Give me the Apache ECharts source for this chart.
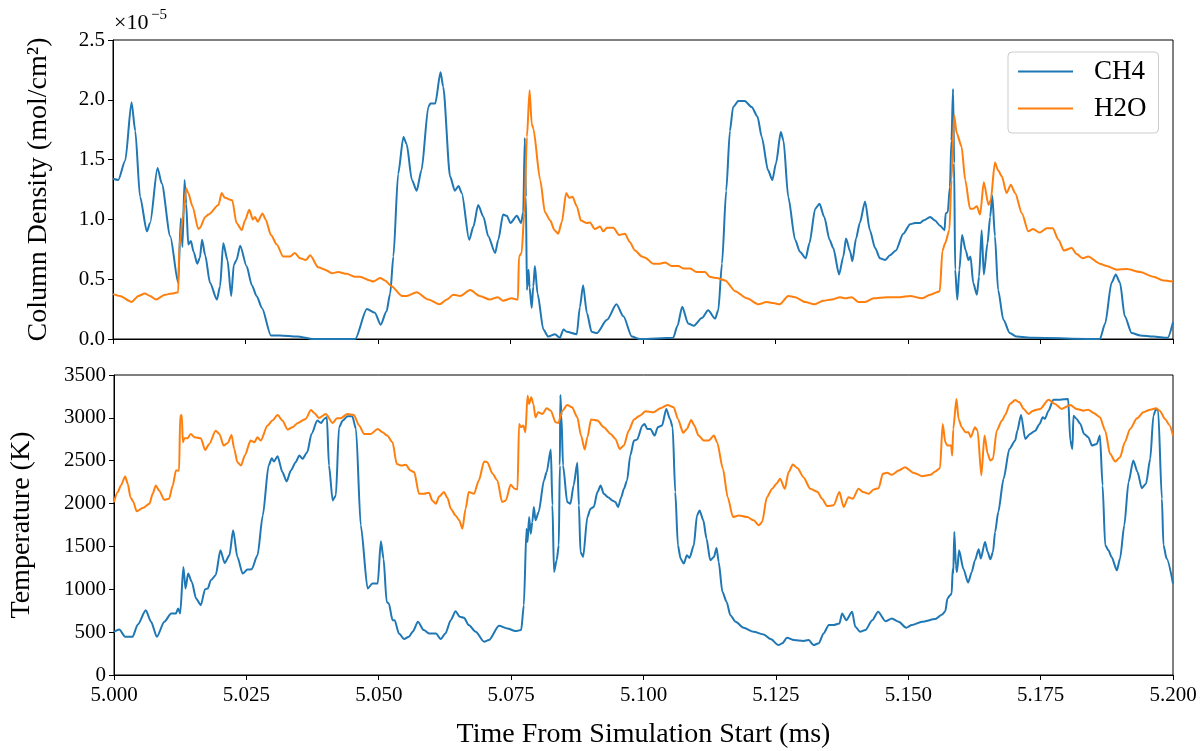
<!DOCTYPE html>
<html>
<head>
<meta charset="UTF-8">
<title>Column Density and Temperature</title>
<script src="https://cdn.jsdelivr.net/npm/echarts@6/dist/echarts.min.js"></script>
<style>
  html, body { margin: 0; padding: 0; background: #fff; }
  #main { width: 1200px; height: 751px; }
</style>
</head>
<body>
<div id="main"></div>
<script>
// column density, in units of 1e-5 mol/cm^2
const densityTimeCH4 = [5.0000,5.0010,5.0023,5.0035,5.0042,5.0051,5.0064,5.0070,5.0084,5.0092,5.0108,5.0123,5.0128,5.0131,5.0135,5.0138,5.0142,5.0147,5.0152,5.0159,5.0164,5.0168,5.0174,5.0183,5.0196,5.0202,5.0208,5.0216,5.0223,5.0228,5.0233,5.0240,5.0252,5.0262,5.0271,5.0281,5.0298,5.0315,5.0347,5.0378,5.0457,5.0479,5.0494,5.0505,5.0516,5.0523,5.0529,5.0538,5.0548,5.0554,5.0564,5.0573,5.0582,5.0595,5.0599,5.0608,5.0618,5.0623,5.0636,5.0645,5.0652,5.0658,5.0672,5.0680,5.0689,5.0699,5.0708,5.0721,5.0727,5.0736,5.0743,5.0750,5.0762,5.0770,5.0774,5.0777,5.0779,5.0781,5.0784,5.0786,5.0790,5.0793,5.0796,5.0801,5.0812,5.0821,5.0834,5.0843,5.0850,5.0856,5.0875,5.0881,5.0887,5.0894,5.0903,5.0913,5.0932,5.0950,5.0963,5.0979,5.0994,5.1057,5.1065,5.1074,5.1085,5.1096,5.1111,5.1123,5.1136,5.1142,5.1149,5.1157,5.1164,5.1170,5.1180,5.1192,5.1205,5.1216,5.1224,5.1236,5.1244,5.1251,5.1260,5.1265,5.1274,5.1287,5.1296,5.1307,5.1314,5.1325,5.1333,5.1342,5.1352,5.1359,5.1370,5.1378,5.1383,5.1391,5.1395,5.1402,5.1409,5.1419,5.1428,5.1438,5.1447,5.1457,5.1466,5.1477,5.1491,5.1504,5.1513,5.1523,5.1529,5.1542,5.1551,5.1560,5.1569,5.1571,5.1575,5.1579,5.1582,5.1585,5.1587,5.1589,5.1593,5.1597,5.1602,5.1609,5.1614,5.1618,5.1623,5.1630,5.1634,5.1639,5.1643,5.1650,5.1655,5.1659,5.1664,5.1670,5.1680,5.1692,5.1705,5.1736,5.1862,5.1872,5.1884,5.1892,5.1900,5.1909,5.1922,5.1938,5.1963,5.1990,5.2000];
const densityCH4 = [1.34,1.33,1.49,1.98,1.74,1.19,0.90,0.97,1.43,1.30,0.86,0.47,1.01,0.77,1.33,1.13,0.79,0.82,0.73,0.63,0.68,0.83,0.70,0.47,0.33,0.44,0.80,0.66,0.36,0.62,0.66,0.78,0.61,0.45,0.36,0.26,0.03,0.03,0.02,0,0,0.25,0.22,0.12,0.23,0.38,0.69,1.38,1.69,1.63,1.33,1.24,1.41,1.94,1.97,1.97,2.23,2.11,1.36,1.24,1.28,1.22,0.83,0.94,1.12,1.02,0.86,0.72,0.83,1.04,1.03,0.97,1.03,0.97,1.06,1.68,1.19,0.41,0.58,0.43,0.26,0.44,0.61,0.38,0.08,0.02,0.04,0.01,0.08,0.06,0.04,0.27,0.45,0.22,0.06,0.05,0.16,0.29,0.19,0.02,0,0.01,0.11,0.27,0.13,0.11,0.175,0.24,0.17,0.24,0.63,1.24,1.74,1.94,1.99,1.99,1.94,1.86,1.69,1.41,1.33,1.47,1.73,1.66,1.19,0.83,0.73,0.675,0.80,1.09,1.13,1.02,0.83,0.76,0.54,0.69,0.84,0.73,0.65,0.84,0.97,1.15,0.91,0.76,0.675,0.66,0.70,0.74,0.88,0.96,0.97,0.97,0.99,1.02,0.99,0.95,0.91,1.05,1.06,1.27,1.66,2.09,1.47,0.58,0.33,0.58,0.87,0.74,0.66,0.69,0.47,0.37,0.52,0.91,0.54,0.80,1.02,1.20,0.86,0.41,0.16,0.05,0.02,0.01,0,0.13,0.47,0.54,0.47,0.19,0.05,0.03,0.02,0.01,0.14];

const densityTimeH2O = [5.0000,5.0013,5.0035,5.0048,5.0060,5.0070,5.0081,5.0098,5.0111,5.0123,5.0125,5.0132,5.0138,5.0142,5.0150,5.0161,5.0164,5.0174,5.0180,5.0199,5.0205,5.0211,5.0225,5.0233,5.0243,5.0249,5.0257,5.0264,5.0268,5.0273,5.0282,5.0288,5.0298,5.0309,5.0321,5.0334,5.0343,5.0353,5.0364,5.0372,5.0387,5.0400,5.0413,5.0425,5.0441,5.0457,5.0466,5.0485,5.0491,5.0504,5.0513,5.0526,5.0545,5.0554,5.0573,5.0595,5.0616,5.0630,5.0642,5.0655,5.0674,5.0692,5.0711,5.0726,5.0736,5.0752,5.0764,5.0766,5.0771,5.0776,5.0781,5.0786,5.0790,5.0793,5.0806,5.0815,5.0825,5.0833,5.0840,5.0847,5.0855,5.0861,5.0867,5.0875,5.0883,5.0894,5.0900,5.0909,5.0919,5.0925,5.0932,5.0944,5.0955,5.0966,5.0975,5.0985,5.0998,5.1004,5.1019,5.1032,5.1042,5.1054,5.1067,5.1076,5.1089,5.1101,5.1117,5.1126,5.1139,5.1155,5.1174,5.1196,5.1218,5.1233,5.1246,5.1258,5.1274,5.1287,5.1306,5.1323,5.1340,5.1356,5.1372,5.1381,5.1394,5.1406,5.1419,5.1435,5.1460,5.1485,5.1504,5.1526,5.1542,5.1560,5.1565,5.1570,5.1578,5.1582,5.1587,5.1592,5.1601,5.1608,5.1617,5.1623,5.1630,5.1636,5.1643,5.1652,5.1656,5.1664,5.1670,5.1677,5.1686,5.1694,5.1702,5.1715,5.1727,5.1736,5.1748,5.1762,5.1773,5.1784,5.1794,5.1809,5.1818,5.1830,5.1840,5.1862,5.1875,5.1894,5.1913,5.1938,5.1963,5.1982,5.2000];
const densityH2O = [0.375,0.36,0.31,0.36,0.38,0.36,0.33,0.37,0.38,0.39,0.77,1.02,1.26,1.22,1.11,0.92,0.93,1.02,1.04,1.12,1.22,1.18,1.16,0.97,0.91,0.99,1.08,1.00,1.02,0.98,1.05,1.00,0.87,0.79,0.69,0.69,0.72,0.675,0.66,0.70,0.60,0.58,0.55,0.56,0.545,0.52,0.52,0.49,0.48,0.51,0.49,0.44,0.36,0.36,0.39,0.33,0.29,0.33,0.37,0.36,0.41,0.36,0.33,0.35,0.32,0.34,0.33,0.69,0.72,1.05,1.69,2.08,1.80,1.76,1.33,1.06,0.99,0.91,0.88,0.98,1.22,1.18,1.19,1.11,0.99,0.97,0.975,0.92,0.94,0.90,0.93,0.93,0.87,0.88,0.81,0.74,0.69,0.68,0.63,0.63,0.64,0.61,0.61,0.59,0.59,0.56,0.56,0.52,0.51,0.49,0.40,0.34,0.29,0.31,0.30,0.29,0.36,0.35,0.31,0.29,0.32,0.33,0.35,0.34,0.35,0.31,0.31,0.34,0.35,0.35,0.36,0.34,0.37,0.40,0.74,0.80,0.91,1.33,1.87,1.72,1.61,1.33,1.09,1.09,1.11,1.04,1.31,1.12,1.16,1.475,1.41,1.36,1.22,1.29,1.22,1.05,0.90,0.92,0.89,0.925,0.925,0.83,0.74,0.76,0.71,0.675,0.69,0.63,0.61,0.58,0.585,0.56,0.52,0.49,0.48];

// temperature, K
const tempTimeCH4 = [5.0000,5.0010,5.0021,5.0035,5.0045,5.0060,5.0070,5.0081,5.0095,5.0108,5.0117,5.0121,5.0125,5.0131,5.0135,5.0140,5.0147,5.0155,5.0164,5.0172,5.0177,5.0183,5.0192,5.0201,5.0209,5.0218,5.0225,5.0233,5.0243,5.0252,5.0260,5.0271,5.0281,5.0292,5.0298,5.0302,5.0309,5.0318,5.0326,5.0334,5.0343,5.0350,5.0356,5.0365,5.0373,5.0384,5.0391,5.0397,5.0402,5.0406,5.0413,5.0419,5.0425,5.0432,5.0441,5.0450,5.0457,5.0466,5.0479,5.0488,5.0498,5.0504,5.0509,5.0515,5.0519,5.0526,5.0530,5.0538,5.0548,5.0557,5.0564,5.0574,5.0585,5.0595,5.0608,5.0617,5.0626,5.0636,5.0645,5.0653,5.0661,5.0670,5.0683,5.0699,5.0708,5.0727,5.0743,5.0758,5.0769,5.0774,5.0779,5.0781,5.0784,5.0787,5.0790,5.0793,5.0796,5.0802,5.0812,5.0817,5.0825,5.0828,5.0831,5.0836,5.0840,5.0842,5.0843,5.0845,5.0848,5.0856,5.0862,5.0868,5.0875,5.0878,5.0881,5.0886,5.0894,5.0900,5.0906,5.0913,5.0919,5.0925,5.0933,5.0941,5.0947,5.0952,5.0958,5.0963,5.0969,5.0975,5.0982,5.0988,5.0998,5.1002,5.1007,5.1013,5.1021,5.1027,5.1035,5.1043,5.1050,5.1055,5.1060,5.1065,5.1070,5.1076,5.1082,5.1087,5.1095,5.1101,5.1106,5.1113,5.1119,5.1126,5.1133,5.1138,5.1142,5.1149,5.1157,5.1164,5.1174,5.1189,5.1208,5.1227,5.1240,5.1255,5.1262,5.1271,5.1284,5.1302,5.1312,5.1321,5.1331,5.1340,5.1350,5.1359,5.1370,5.1375,5.1383,5.1394,5.1400,5.1409,5.1419,5.1432,5.1443,5.1457,5.1469,5.1482,5.1496,5.1507,5.1526,5.1551,5.1564,5.1570,5.1574,5.1579,5.1582,5.1584,5.1585,5.1587,5.1590,5.1592,5.1596,5.1604,5.1613,5.1620,5.1626,5.1633,5.1637,5.1645,5.1650,5.1655,5.1660,5.1664,5.1670,5.1680,5.1691,5.1702,5.1706,5.1713,5.1721,5.1730,5.1740,5.1748,5.1754,5.1758,5.1765,5.1774,5.1787,5.1802,5.1806,5.1810,5.1812,5.1818,5.1825,5.1832,5.1840,5.1847,5.1856,5.1862,5.1867,5.1872,5.1878,5.1884,5.1894,5.1900,5.1908,5.1916,5.1925,5.1933,5.1941,5.1949,5.1957,5.1963,5.1968,5.1972,5.1979,5.1982,5.1988,5.2000];
const tempCH4 = [504,531,446,446,590,756,621,446,621,718,718,776,718,1261,1009,1183,1086,892,815,1001,1009,1106,1164,1455,1307,1397,1688,1377,1183,1230,1234,1397,1862,2444,2530,2490,2553,2367,2258,2386,2483,2560,2522,2600,2813,2968,2941,2988,3007,2444,2037,2095,2890,2968,3018,3018,2871,1746,1009,1067,1067,1559,1358,853,834,640,640,485,419,446,504,621,524,485,485,419,485,640,745,679,667,582,504,388,407,574,543,512,524,815,1707,1552,1843,1649,1785,1959,1804,1901,2270,2367,2631,1979,1203,1339,1513,2444,3267,3026,2444,2017,1998,2211,2475,1979,1435,1377,1843,1940,1959,2134,2211,2114,2075,2037,2017,1959,2075,2172,2270,2560,2735,2747,2910,2929,2871,2871,2793,2890,2910,3104,2988,2890,2134,1513,1358,1300,1397,1366,1513,1862,1920,1804,1591,1339,1377,1482,1319,970,853,698,621,551,504,473,419,349,369,434,407,396,407,349,369,485,582,582,601,718,640,737,563,504,524,640,737,628,660,621,551,582,621,652,706,745,892,931,950,1241,1183,1668,1280,1203,1455,1241,1078,1203,1339,1467,1358,1552,1435,1350,1435,1668,1901,2289,2638,2735,2851,3034,2754,2813,2851,2929,3007,2988,3084,3212,3212,3220,2735,2638,3026,2988,2929,2813,2774,2677,2696,2793,2211,1513,1455,1377,1222,1358,1746,2250,2502,2367,2180,2231,2522,3026,3104,3084,2056,1513,1358,1067];

const tempTimeH2O = [5.0000,5.0007,5.0013,5.0021,5.0026,5.0031,5.0036,5.0043,5.0054,5.0067,5.0073,5.0079,5.0085,5.0095,5.0104,5.0111,5.0117,5.0123,5.0125,5.0128,5.0130,5.0133,5.0139,5.0145,5.0152,5.0164,5.0172,5.0180,5.0192,5.0199,5.0207,5.0215,5.0222,5.0227,5.0233,5.0240,5.0247,5.0258,5.0265,5.0271,5.0277,5.0290,5.0299,5.0309,5.0318,5.0328,5.0337,5.0347,5.0362,5.0372,5.0378,5.0387,5.0400,5.0413,5.0421,5.0428,5.0441,5.0453,5.0463,5.0472,5.0485,5.0498,5.0507,5.0516,5.0526,5.0534,5.0542,5.0551,5.0560,5.0567,5.0576,5.0585,5.0595,5.0601,5.0608,5.0614,5.0623,5.0630,5.0636,5.0645,5.0652,5.0658,5.0664,5.0670,5.0680,5.0689,5.0699,5.0705,5.0715,5.0724,5.0733,5.0740,5.0749,5.0757,5.0762,5.0765,5.0769,5.0773,5.0777,5.0781,5.0784,5.0788,5.0792,5.0796,5.0801,5.0809,5.0817,5.0825,5.0834,5.0839,5.0847,5.0856,5.0865,5.0875,5.0882,5.0889,5.0894,5.0901,5.0913,5.0925,5.0938,5.0947,5.0955,5.0963,5.0972,5.0982,5.0993,5.1004,5.1019,5.1032,5.1045,5.1057,5.1065,5.1075,5.1082,5.1090,5.1096,5.1104,5.1114,5.1123,5.1133,5.1139,5.1150,5.1159,5.1169,5.1180,5.1196,5.1208,5.1218,5.1224,5.1233,5.1243,5.1251,5.1258,5.1267,5.1274,5.1282,5.1291,5.1302,5.1315,5.1329,5.1337,5.1347,5.1359,5.1370,5.1378,5.1387,5.1395,5.1406,5.1415,5.1425,5.1435,5.1444,5.1452,5.1460,5.1469,5.1482,5.1494,5.1510,5.1526,5.1542,5.1551,5.1560,5.1565,5.1570,5.1574,5.1581,5.1583,5.1585,5.1591,5.1595,5.1601,5.1608,5.1614,5.1618,5.1626,5.1631,5.1638,5.1644,5.1650,5.1655,5.1660,5.1667,5.1677,5.1683,5.1692,5.1702,5.1710,5.1718,5.1727,5.1736,5.1749,5.1765,5.1777,5.1790,5.1806,5.1818,5.1831,5.1840,5.1850,5.1862,5.1872,5.1881,5.1891,5.1900,5.1909,5.1919,5.1932,5.1944,5.1957,5.1968,5.1975,5.1985,5.1993,5.2000];
const tempH2O = [2017,2134,2211,2316,2231,2075,2025,1909,1947,1998,2114,2211,2153,2044,2056,2211,2386,2386,3026,3034,2716,2762,2762,2813,2774,2762,2626,2696,2851,2813,2677,2708,2801,2638,2483,2444,2560,2735,2716,2774,2735,2910,2968,3034,2968,2863,2890,2941,2988,3092,3057,2999,3045,2941,2995,2995,3045,3034,2910,2813,2813,2871,2832,2793,2716,2463,2444,2452,2386,2367,2114,2114,2126,2037,1998,2083,2134,2064,1940,1862,1804,1707,1940,2134,2114,2270,2491,2483,2347,2270,2017,2037,2219,2172,2165,2929,2890,2910,2832,3259,3162,3240,3162,3007,3065,3045,3111,3084,2948,2941,3084,3150,3123,3007,2793,2630,2774,2980,2968,2890,2813,2754,2638,2677,2851,2980,3026,3077,3065,3111,3150,3123,2988,2825,2871,2976,2910,2793,2735,2735,2793,2716,2405,2075,1843,1862,1843,1804,1746,1785,2075,2172,2231,2289,2172,2367,2456,2413,2308,2172,2134,2056,1971,1979,2134,1959,2075,2056,2172,2134,2114,2165,2180,2347,2359,2335,2386,2425,2359,2320,2335,2374,2413,2929,2716,2677,2677,2560,2871,3220,2988,2890,2832,2832,2774,2890,2851,2328,2793,2580,2502,2522,2851,2968,3034,3162,3208,3181,3104,3045,3084,3104,3212,3162,3104,3150,3104,3084,3096,3057,3007,2851,2580,2491,2541,2716,2871,2995,3065,3096,3111,3084,2988,2918,2793];

const seriesNames = ['CH4', 'H2O'];
const colors = ['#1f77b4', '#ff7f0e'];

function pairs(xs, ys) {
  return xs.map((x, i) => [x, ys[i]]);
}

const font = 'Liberation Serif';
const chart = echarts.init(document.getElementById('main'), null, { renderer: 'canvas' });

const xBase = {
  type: 'value',
  min: 5,
  max: 5.2,
  interval: 0.025,
  axisLine: { lineStyle: { color: '#000', width: 1 } },
  axisTick: { length: 5, lineStyle: { color: '#000', width: 1 } },
  splitLine: { show: false }
};
const yBase = {
  type: 'value',
  nameLocation: 'middle',
  nameRotate: 90,
  nameTextStyle: { fontFamily: font, fontSize: 28, color: '#000' },
  axisLine: { show: true, lineStyle: { color: '#000', width: 1 } },
  axisTick: { show: true, length: 5, lineStyle: { color: '#000', width: 1 } },
  axisLabel: { fontFamily: font, fontSize: 21, color: '#000', margin: 8 },
  splitLine: { show: false }
};

function lineSeries(name, xi, data, color) {
  return {
    name: name, type: 'line', xAxisIndex: xi, yAxisIndex: xi, data: data,
    showSymbol: false, smooth: 0.25, smoothMonotone: 'x',
    lineStyle: { width: 2, color: color }, itemStyle: { color: color }
  };
}

const option = {
  animation: false,
  backgroundColor: '#fff',
  grid: [
    { left: 113, top: 40, width: 1060, height: 299, show: true, borderColor: '#000', borderWidth: 1 },
    { left: 113, top: 375, width: 1060, height: 300, show: true, borderColor: '#000', borderWidth: 1 }
  ],
  xAxis: [
    Object.assign({}, xBase, { gridIndex: 0, axisLabel: { show: false } }),
    Object.assign({}, xBase, {
      gridIndex: 1,
      name: 'Time From Simulation Start (ms)',
      nameLocation: 'middle',
      nameGap: 46,
      nameTextStyle: { fontFamily: font, fontSize: 28, color: '#000' },
      axisLabel: { fontFamily: font, fontSize: 21, color: '#000', margin: 10,
        formatter: v => v.toFixed(3) }
    })
  ],
  yAxis: [
    Object.assign({}, yBase, {
      gridIndex: 0, min: 0, max: 2.5, interval: 0.5,
      name: 'Column Density (mol/cm²)', nameGap: 60,
      axisLabel: Object.assign({}, yBase.axisLabel, { formatter: v => v.toFixed(1) })
    }),
    Object.assign({}, yBase, {
      gridIndex: 1, min: 0, max: 3500, interval: 500,
      name: 'Temperature (K)', nameGap: 78,
      axisLabel: Object.assign({}, yBase.axisLabel, { formatter: v => String(v) })
    })
  ],
  legend: {
    data: seriesNames,
    orient: 'vertical',
    left: 1008,
    top: 52,
    icon: 'rect',
    itemWidth: 55,
    itemHeight: 2,
    itemGap: 10,
    padding: [6, 12, 11, 10],
    borderColor: '#cccccc',
    borderWidth: 1,
    borderRadius: 4,
    backgroundColor: 'rgba(255,255,255,0.8)',
    textStyle: { fontFamily: font, fontSize: 27, color: '#000', padding: [0, 0, 0, 16] }
  },
  graphic: [
    { type: 'text', left: 114, top: 12, style: { text: '×10', font: '22px "Liberation Serif"', fill: '#000' } },
    { type: 'text', left: 151, top: 8, style: { text: '−5', font: '15px "Liberation Serif"', fill: '#000' } }
  ],
  series: [
    lineSeries(seriesNames[0], 0, pairs(densityTimeCH4, densityCH4), colors[0]),
    lineSeries(seriesNames[1], 0, pairs(densityTimeH2O, densityH2O), colors[1]),
    lineSeries(seriesNames[0], 1, pairs(tempTimeCH4, tempCH4), colors[0]),
    lineSeries(seriesNames[1], 1, pairs(tempTimeH2O, tempH2O), colors[1])
  ]
};

chart.setOption(option);
</script>
</body>
</html>
